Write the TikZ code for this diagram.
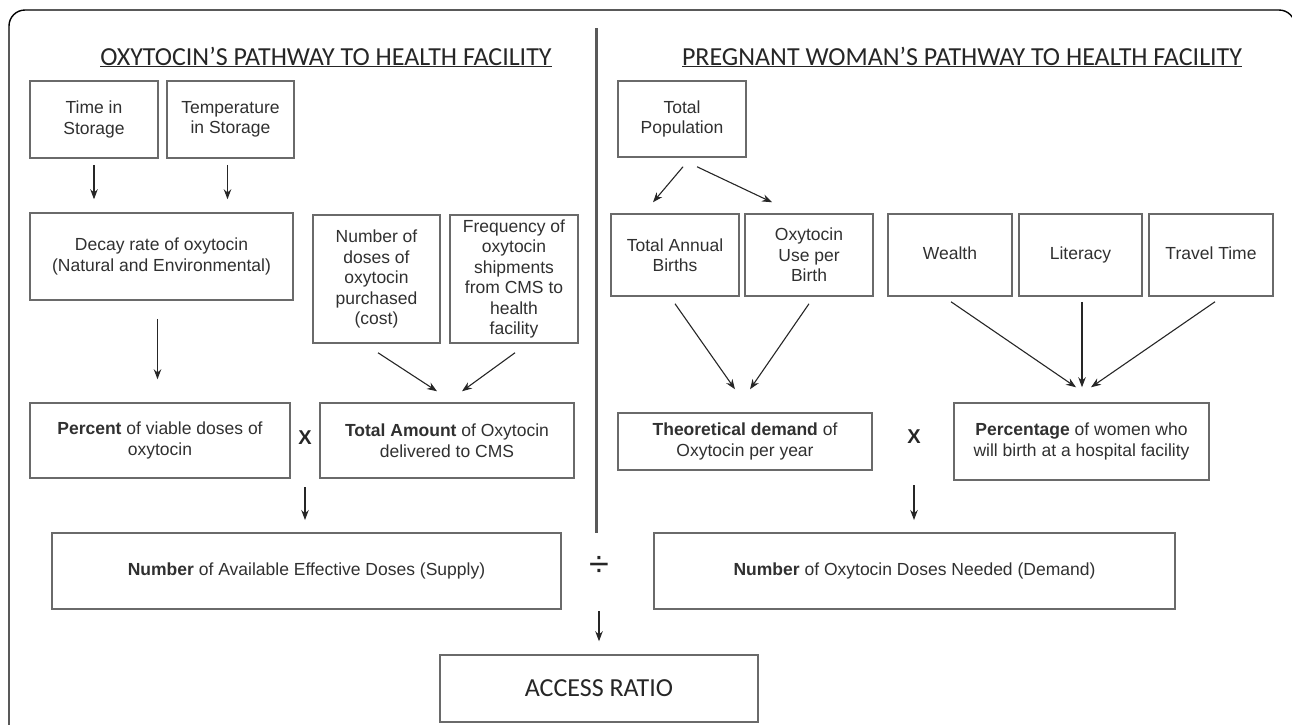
\documentclass[tikz,border=0pt]{standalone}
\usepackage{fontspec}
\setmainfont{Liberation Sans}
\newfontfamily\headfont{Carlito}
\usetikzlibrary{arrows.meta}
\definecolor{boxgray}{HTML}{6A6A6A}
\definecolor{txtgray}{HTML}{303030}
\tikzset{
  fbox/.style={draw=boxgray, line width=1.5pt, align=center, inner sep=1pt, text=txtgray,
    font=\fontsize{17.5}{20.5}\selectfont},
  flow/.style={-{Stealth[length=10pt,width=7.5pt]}, line width=1.1pt, draw=black!85},
  optext/.style={font=\fontsize{20}{22}\selectfont\bfseries, text=black!85},
  head/.style={font=\headfont\fontsize{26}{28}\selectfont, text=black!85},
}
\begin{document}
\begin{tikzpicture}[x=1pt, y=-1pt]
                        \useasboundingbox (0,0) rectangle (1292,724);
                        \clip (0,0) rectangle (1292,724);
                        % Frame, titles and divider:
                        \draw[line width=1.4pt, rounded corners=16pt] (9,760) -- (9,10) -- (1295,10) -- (1295,760);
                        \node[head] (titleL) at (326,57) {\underline{OXYTOCIN’S PATHWAY TO HEALTH FACILITY}};
                        \node[head] (titleR) at (962,57) {\underline{PREGNANT WOMAN’S PATHWAY TO HEALTH FACILITY}};
                        \draw[line width=3pt, draw=black!65] (596,28) -- (596,533);
                        % Oxytocin side:
                        \node[fbox, minimum width=128, minimum height=77] (time) at (94,119.5) {Time in\\Storage};
                        \node[fbox, minimum width=127, minimum height=77] (temp) at (230.5,119.5) {Temperature\\in Storage};
                        \node[fbox, minimum width=263, minimum height=87] (decay) at (161.5,256.5) {Decay rate of oxytocin\\(Natural and Environmental)};
                        \node[fbox, minimum width=127, minimum height=128] (doses) at (376.5,279) {Number of\\doses of\\oxytocin\\purchased\\(cost)};
                        \node[fbox, minimum width=128, minimum height=128] (freq) at (514,279) {Frequency of\\oxytocin\\shipments\\from CMS to\\health\\facility};
                        \node[fbox, minimum width=260, minimum height=75] (viable) at (160,440.5) {\textbf{Percent} of viable doses of\\oxytocin};
                        \node[optext] (mulL) at (305,438) {X};
                        \node[fbox, minimum width=254, minimum height=75] (amount) at (447,440.5) {\textbf{Total Amount} of Oxytocin\\delivered to CMS};
                        \node[fbox, minimum width=509, minimum height=76] (supply) at (306.5,571) {\textbf{Number} of Available Effective Doses (Supply)};
                        \draw[flow] ([yshift=-6pt]time.south) -- ([yshift=13pt]time.south |- decay.north);
                        \draw[flow] ([xshift=-3pt,yshift=-6pt]temp.south) -- ([xshift=-3pt,yshift=13pt]temp.south |- decay.north);
                        \draw[flow] ([xshift=-4pt,yshift=-18pt]decay.south) -- ([xshift=-4pt,yshift=23pt]decay.south |- viable.north);
                        \draw[flow] ([xshift=1.5pt,yshift=-9pt]doses.south) -- ([xshift=-10pt,yshift=11pt]amount.north);
                        \draw[flow] ([xshift=1pt,yshift=-9pt]freq.south) -- ([xshift=15pt,yshift=11pt]amount.north);
                        \draw[flow] ([yshift=-49pt]mulL.center) -- ([yshift=-82pt]mulL.center);
                        % Pregnant woman side:
                        \node[fbox, minimum width=128, minimum height=76] (pop) at (682,119) {Total\\Population};
                        \node[fbox, minimum width=128, minimum height=82] (births) at (675,255) {Total Annual\\Births};
                        \node[fbox, minimum width=128, minimum height=82] (use) at (809,255) {Oxytocin\\Use per\\Birth};
                        \node[fbox, minimum width=124, minimum height=82, text depth=4pt] (wealth) at (950,255) {Wealth};
                        \node[fbox, minimum width=123, minimum height=82, text depth=4pt] (literacy) at (1080.5,255) {Literacy};
                        \node[fbox, minimum width=124, minimum height=82, text depth=4pt] (travel) at (1211,255) {Travel Time};
                        \node[fbox, minimum width=254, minimum height=57] (theo) at (745,441.5) {\textbf{Theoretical demand} of\\Oxytocin per year};
                        \node[optext] (mulR) at (914,437) {X};
                        \node[fbox, minimum width=255, minimum height=77] (share) at (1081.5,441.5) {\textbf{Percentage} of women who\\will birth at a hospital facility};
                        \node[fbox, minimum width=521, minimum height=76] (demand) at (914.5,571) {\textbf{Number} of Oxytocin Doses Needed (Demand)};
                        \draw[flow] ([xshift=1pt,yshift=-9pt]pop.south) -- ([xshift=-22pt,yshift=11pt]births.north);
                        \draw[flow] ([xshift=15pt,yshift=-9pt]pop.south) -- ([xshift=-37pt,yshift=11pt]use.north);
                        \draw[flow] ([yshift=-7pt]births.south) -- ([xshift=-10pt,yshift=23pt]theo.north);
                        \draw[flow] ([yshift=-7pt]use.south) -- ([xshift=5pt,yshift=23pt]theo.north);
                        \draw[flow] ([xshift=1pt,yshift=-5pt]wealth.south) -- ([xshift=-5.5pt,yshift=15pt]share.north);
                        \draw[flow] ([xshift=1.5pt,yshift=-5pt]literacy.south) -- ([xshift=0.5pt,yshift=15pt]share.north);
                        \draw[flow] ([xshift=4pt,yshift=-5pt]travel.south) -- ([xshift=9.5pt,yshift=15pt]share.north);
                        \draw[flow] ([yshift=-48pt]mulR.center) -- ([yshift=-83pt]mulR.center);
                        % Ratio:
                        \node[font=\fontsize{36}{36}\selectfont, text=black!85] (divOp) at (599,566) {÷};
                        \node[fbox, minimum width=318, minimum height=67, font=\headfont\fontsize{26}{28}\selectfont, text=black!85] (access) at (599,688.5) {ACCESS RATIO};
                        \draw[flow] ([yshift=-45pt]divOp.center) -- ([yshift=13pt]access.north);
                    \end{tikzpicture}
\end{document}
